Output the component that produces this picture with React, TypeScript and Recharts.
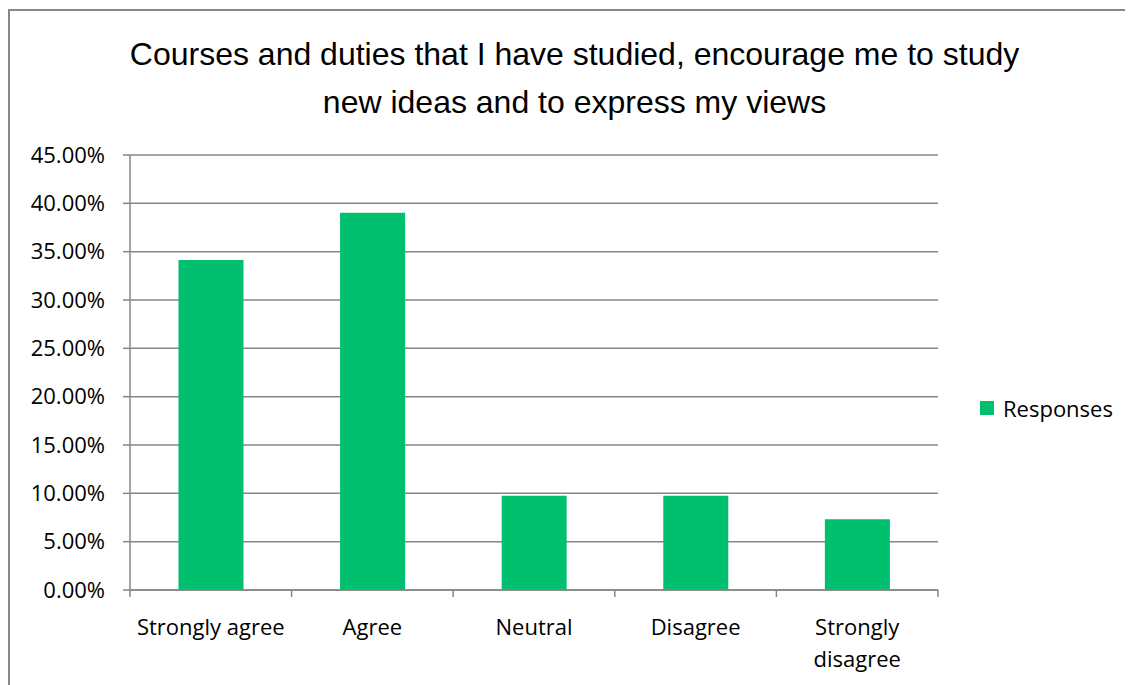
import React from 'react';
import { BarChart, Bar, XAxis, YAxis, CartesianGrid } from 'recharts';

const categories = ['Strongly agree', 'Agree', 'Neutral', 'Disagree', 'Strongly disagree'];
const responses = [0.3415, 0.3902, 0.0976, 0.0976, 0.0732];
const yTicks = [0, 0.05, 0.1, 0.15, 0.2, 0.25, 0.3, 0.35, 0.4, 0.45];
const seriesName = 'Responses';
const titleLines = [
  'Courses and duties that I have studied, encourage me to study',
  'new ideas and to express my views',
];

const data = categories.map((c, i) => ({ name: c, Responses: responses[i] }));

const GRID = '#868686';
const BAR = '#00BF6F';
const LABEL_FONT = '"Open Sans", Lato, sans-serif';

// category label plus the tick marks Excel puts between categories
const CategoryTick = ({ x, y, payload, index, visibleTicksCount }: any) => {
  const label: string = payload.value;
  const cut = label.lastIndexOf(' ');
  const lines = label.length > 15 ? [label.slice(0, cut), label.slice(cut + 1)] : [label];
  const half = payload.offset ?? 0;
  const axisY = y - 8;
  return (
    <g>
      {half > 0 && <line x1={x - half} x2={x - half} y1={axisY} y2={axisY + 7} stroke={GRID} strokeWidth={1.5} />}
      {half > 0 && index === visibleTicksCount - 1 && (
        <line x1={x + half} x2={x + half} y1={axisY} y2={axisY + 7} stroke={GRID} strokeWidth={1.5} />
      )}
      <text x={x} y={y} textAnchor="middle" fill="#000" fontSize={22} fontFamily={LABEL_FONT}>
        {lines.map((l, i) => (
          <tspan key={i} x={x} dy={i === 0 ? 37 : 32}>{l}</tspan>
        ))}
      </text>
    </g>
  );
};

const App: React.FC = () => {
  return (
    <div style={{ position: 'relative', width: 1125, height: 677 }}>
      <div style={{ position: 'absolute', left: 0, top: 1, width: 1300, height: 800, borderTop: `2px solid ${GRID}`, borderLeft: `2px solid ${GRID}`, boxSizing: 'border-box' }} />
      <div style={{ position: 'absolute', left: 0, top: 22, width: 1133, textAlign: 'center', fontFamily: '"Liberation Sans", Arial, sans-serif', fontSize: 32, lineHeight: '48px', color: '#000' }}>
        {titleLines.map((l, i) => <div key={i}>{l}</div>)}
      </div>
      <div style={{ position: 'absolute', left: 972, top: 385, display: 'flex', alignItems: 'center', fontFamily: LABEL_FONT, fontSize: 22, color: '#000' }}>
        <span style={{ display: 'inline-block', width: 14, height: 14, background: BAR, marginRight: 9 }} />
        <span>{seriesName}</span>
      </div>
      <div style={{ position: 'absolute', left: 0, top: 0 }}>
        <BarChart width={1125} height={677} data={data} margin={{ top: 147, right: 195, bottom: 0, left: 0 }} barCategoryGap="30%">
          <CartesianGrid vertical={false} stroke={GRID} strokeWidth={1.5} />
          <XAxis dataKey="name" tickLine={false} tickSize={0} tickMargin={8} axisLine={{ stroke: GRID, strokeWidth: 1.5 }} tick={<CategoryTick />} interval={0} height={95} />
          <YAxis domain={[0, 0.45]} ticks={yTicks} tickFormatter={(v: number) => `${(v * 100).toFixed(2)}%`} width={122} tick={{ fill: '#000', fontSize: 22, fontFamily: LABEL_FONT, dx: -16 }} tickLine={{ stroke: GRID, strokeWidth: 1.5 }} tickSize={7} axisLine={{ stroke: GRID, strokeWidth: 1.5 }} />
          <Bar dataKey={seriesName} fill={BAR} isAnimationActive={false} />
        </BarChart>
      </div>
    </div>
  );
};

export default App;
